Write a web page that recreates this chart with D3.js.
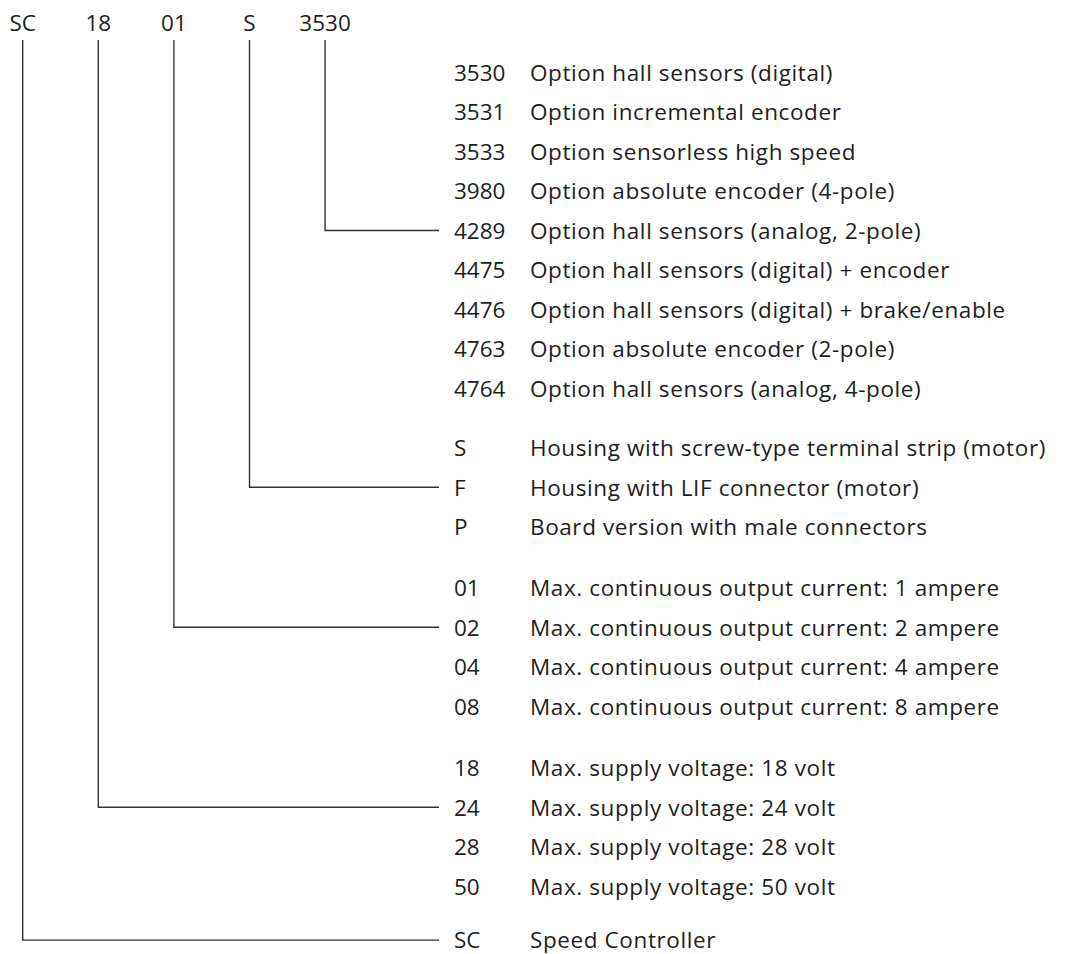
<!DOCTYPE html>
<html>
<head>
<meta charset="utf-8">
<script src="https://cdn.jsdelivr.net/npm/d3@7"></script>
<style>
  html, body { margin: 0; padding: 0; background: #fff; }
  svg { display: block; }
  text { font-family: "Open Sans", "Noto Sans", sans-serif; fill: #1e1e1e; }
</style>
</head>
<body>
<svg id="chart" width="1068" height="954"></svg>
<script>
// ---- data ----
const headerCodes = ["SC", "18", "01", "S", "3530"];

const optionCodes = ["3530", "3531", "3533", "3980", "4289", "4475", "4476", "4763", "4764"];
const optionLabels = [
  "Option hall sensors (digital)",
  "Option incremental encoder",
  "Option sensorless high speed",
  "Option absolute encoder (4-pole)",
  "Option hall sensors (analog, 2-pole)",
  "Option hall sensors (digital) + encoder",
  "Option hall sensors (digital) + brake/enable",
  "Option absolute encoder (2-pole)",
  "Option hall sensors (analog, 4-pole)"
];

const housingCodes = ["S", "F", "P"];
const housingLabels = [
  "Housing with screw-type terminal strip (motor)",
  "Housing with LIF connector (motor)",
  "Board version with male connectors"
];

const currentCodes = ["01", "02", "04", "08"];
const currentLabels = [
  "Max. continuous output current: 1 ampere",
  "Max. continuous output current: 2 ampere",
  "Max. continuous output current: 4 ampere",
  "Max. continuous output current: 8 ampere"
];

const voltageCodes = ["18", "24", "28", "50"];
const voltageLabels = [
  "Max. supply voltage: 18 volt",
  "Max. supply voltage: 24 volt",
  "Max. supply voltage: 28 volt",
  "Max. supply voltage: 50 volt"
];

const seriesCodes = ["SC"];
const seriesLabels = ["Speed Controller"];

// header code -> [group index, row within group it points to]
const headerGroup = [4, 3, 2, 1, 0];
const headerTargetRow = [0, 1, 1, 1, 4];

// ---- layout ----
const groups = [
  {codes: optionCodes, labels: optionLabels},
  {codes: housingCodes, labels: housingLabels},
  {codes: currentCodes, labels: currentLabels},
  {codes: voltageCodes, labels: voltageLabels},
  {codes: seriesCodes, labels: seriesLabels}
];
const groupGapPx = [0, 19.8, 41.3, 63.3, 77.6];

const rows = [];
let idx = 0;
groups.forEach((g, gi) => {
  g.codes.forEach((c, ri) => {
    rows.push({code: c, label: g.labels[ri], group: gi, row: ri, index: idx++});
  });
});

const svg = d3.select("#chart");
const fontSize = 22.5;
const capHalf = 8.2;

const yRow = d3.scaleLinear().domain([0, rows.length - 1]).range([80.7, 80.7 + (rows.length - 1) * 39.5]);
const baseline = r => yRow(r.index) + groupGapPx[r.group];

const xHeader = d3.scalePoint().domain(headerCodes).range([22.7, 325.1]);
const codeX = 454;
const labelX = 530;
const lineEndX = 439;
const headerBaseline = 30.5;
const vertTop = 40;

// header codes
svg.append("g").selectAll("text")
  .data(headerCodes)
  .join("text")
  .attr("x", d => xHeader(d))
  .attr("y", headerBaseline)
  .attr("text-anchor", "middle")
  .style("font-size", fontSize + "px")
  .text(d => d);

// rows
const rowG = svg.append("g");
rowG.selectAll("text.code")
  .data(rows)
  .join("text")
  .attr("class", "code")
  .attr("x", codeX)
  .attr("y", d => baseline(d))
  .style("font-size", fontSize + "px")
  .text(d => d.code);

rowG.selectAll("text.label")
  .data(rows)
  .join("text")
  .attr("class", "label")
  .attr("x", labelX)
  .attr("y", d => baseline(d))
  .style("font-size", fontSize + "px")
  .style("letter-spacing", "0.6px")
  .text(d => d.label);

// connectors
const connectors = headerCodes.map((c, i) => {
  const target = rows.find(r => r.group === headerGroup[i] && r.row === headerTargetRow[i]);
  return {code: c, x: xHeader(c), y: baseline(target) - capHalf};
});

svg.append("g").selectAll("path")
  .data(connectors)
  .join("path")
  .attr("d", d => d3.line()([[d.x, vertTop], [d.x, d.y], [lineEndX, d.y]]))
  .attr("fill", "none")
  .attr("stroke", "#333333")
  .attr("stroke-width", 1.4);
</script>
</body>
</html>
